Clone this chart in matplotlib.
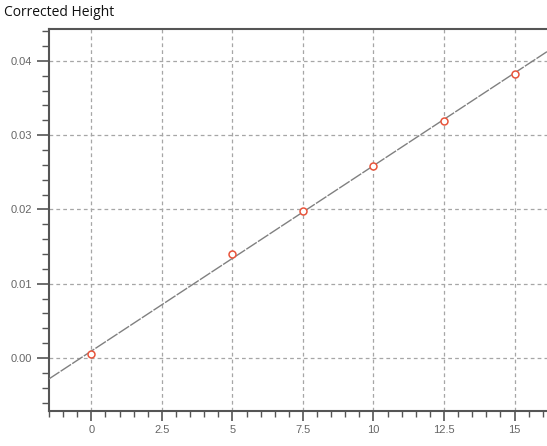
import numpy as np
import matplotlib
matplotlib.use("Agg")
import matplotlib.pyplot as plt
from matplotlib.ticker import MultipleLocator

# Data
x_values = [0, 5, 7.5, 10, 12.5, 15]
heights = [0.0005, 0.0140, 0.0198, 0.0259, 0.0319, 0.0383]
x_ticks = [0, 2.5, 5, 7.5, 10, 12.5, 15]
x_tick_labels = ["0", "2.5", "5", "7.5", "10", "12.5", "15"]
y_ticks = [0.00, 0.01, 0.02, 0.03, 0.04]
y_tick_labels = ["0.00", "0.01", "0.02", "0.03", "0.04"]
title = "Corrected Height"

slope, intercept = np.polyfit(x_values, heights, 1)

fig = plt.figure(figsize=(5.47, 4.46), dpi=100)
ax = fig.add_axes([49/547, 1-411/446, 1-49/547, (411-29)/446])

xmin, xmax = -1.5, 16.15
ax.set_xlim(xmin, xmax)
ax.set_ylim(-0.00714, 0.0443)

xl = np.array([xmin, xmax])
ax.plot(xl, slope*xl + intercept, color="#808080", lw=1.0, dashes=(9, 1.0), zorder=3)
ax.plot(x_values, heights, linestyle="none", marker="o", ms=5.0, mfc="white",
        mec="#e8553c", mew=1.1, zorder=4)

ax.set_xticks(x_ticks)
ax.set_xticklabels(x_tick_labels)
ax.set_yticks(y_ticks)
ax.set_yticklabels(y_tick_labels)
ax.xaxis.set_minor_locator(MultipleLocator(0.5))
ax.yaxis.set_minor_locator(MultipleLocator(0.002))

ax.grid(True, which="major", color="#a6a6a6", lw=0.9, dashes=(3.0, 2.5))
ax.set_axisbelow(True)

for s in ["left", "bottom", "top"]:
    ax.spines[s].set_color("#555555")
    ax.spines[s].set_linewidth(1.5)
ax.spines["right"].set_visible(False)

ax.tick_params(which="major", direction="out", length=9, width=1.2, color="#555555",
               labelsize=8, labelcolor="#666666", pad=3)
ax.tick_params(which="minor", direction="out", length=5, width=1.0, color="#555555")
ax.tick_params(axis="x", which="major", length=7)
ax.tick_params(axis="x", which="minor", length=4)
ax.tick_params(top=False, right=False, which="both")

for lab in ax.get_xticklabels() + ax.get_yticklabels():
    lab.set_family(["Liberation Sans", "DejaVu Sans"])

fig.text(4/547, 1-12/446, title, ha="left", va="center", fontsize=10,
         family=["Open Sans", "DejaVu Sans"], color="#111111")

fig.savefig("out.png", dpi=100)
